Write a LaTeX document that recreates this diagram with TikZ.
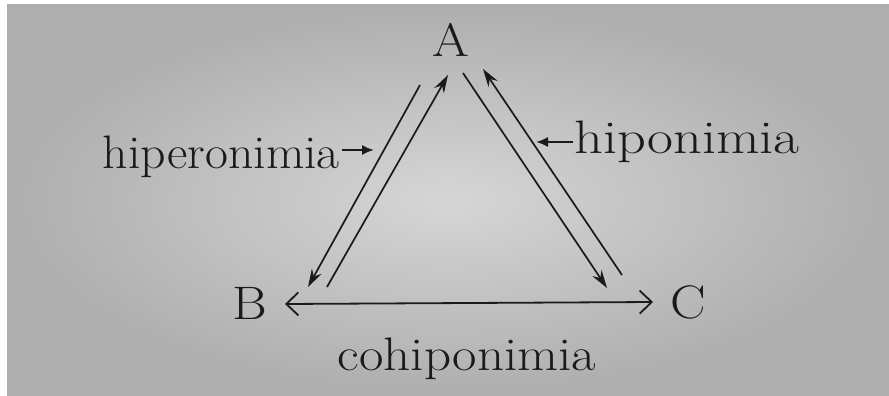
\documentclass[tikz,border=0pt]{standalone}
\usetikzlibrary{arrows.meta}
\definecolor{ink}{HTML}{1A1A1A}
\definecolor{paperin}{HTML}{D6D6D6}
\definecolor{paperout}{HTML}{AEAEAE}
\newcommand{\widetext}[2][1.13]{\scalebox{#1}[1]{#2}}
\tikzset{
  letter/.style={inner sep=0pt, text=ink, font=\fontsize{47}{50}\selectfont},
  rel/.style={draw=ink, line width=1.7pt, -{Stealth[length=18pt,width=11pt,inset=6pt]}},
  cohi/.style={draw=ink, line width=1.8pt, {Straight Barb[length=12pt,width=23pt,line width=1.8pt]}-{Straight Barb[length=12pt,width=23pt,line width=1.8pt]}},
  pointer/.style={draw=ink, line width=2pt, -{Latex[length=12pt,width=10pt]}}
}
\begin{document}
\begin{tikzpicture}[x=1pt,y=-1pt]
\useasboundingbox (0,0) rectangle (889,396);
\fill[white] (0,0) rectangle (889,396);
\shade[inner color=paperin, outer color=paperout] (7,5) rectangle (889,396);

\node[letter, anchor=base] (A) at (451,57) {\widetext{A}};
\node[letter, anchor=base] (B) at (250,319) {\widetext{B}};
\node[letter, anchor=base] (C) at (688,318) {\widetext{C}};
\node[letter, anchor=base east] (hyper) at (340,168) {\widetext[1.06]{hiperonimia}};
\node[letter, anchor=base west] (hypo) at (574,153) {\widetext[1.2]{hiponimia}};
\node[letter, anchor=base] (cohypo) at (467,370) {\widetext{cohiponimia}};

% endpoints of the parallel connectors
\coordinate (AB1) at (420,85);  \coordinate (BA1) at (308,287);
\coordinate (BA2) at (327,287); \coordinate (AB2) at (448,75);
\coordinate (AC1) at (463,73);  \coordinate (CA1) at (607,288);
\coordinate (CA2) at (622,275); \coordinate (AC2) at (483,69);
\coordinate (Bt) at (285,304);  \coordinate (Ct) at (653,302);
\coordinate (hyperS) at (342,150); \coordinate (hyperT) at (374,150);
\coordinate (hypoS) at (573,142);  \coordinate (hypoT) at (536,142);

\draw[rel] (AB1) -- (BA1);
\draw[rel] (BA2) -- (AB2);
\draw[rel] (AC1) -- (CA1);
\draw[rel] (CA2) -- (AC2);
\draw[cohi] (Bt) -- (Ct);

\draw[pointer] (hyperS) -- (hyperT);
\draw[pointer] (hypoS) -- (hypoT);
\end{tikzpicture}
\end{document}
